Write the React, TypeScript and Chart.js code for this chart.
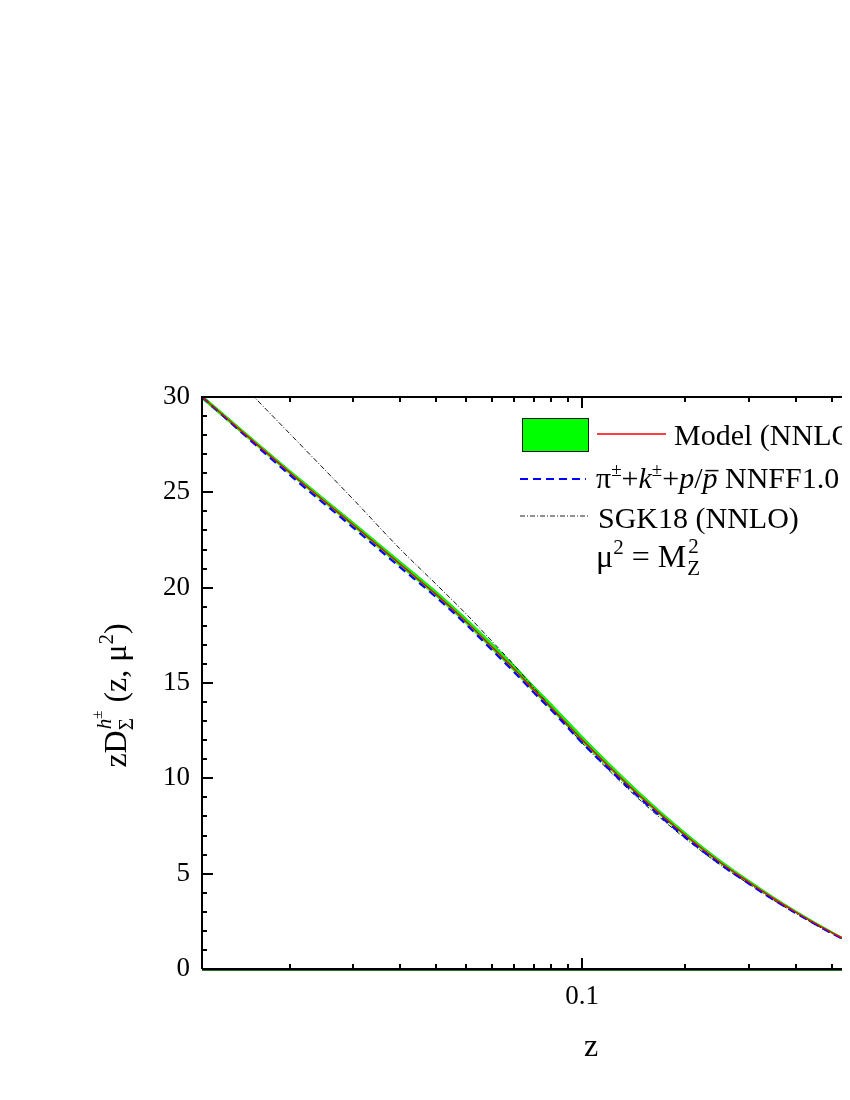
import React, { useEffect, useRef } from "react";
import { Chart, registerables } from "chart.js";

Chart.register(...registerables);

// ---------------- data ----------------
const Z_SHIFT = 0.0225; // axis is log10(z + shift)
const zPoints = [-0.009, 0, 0.01, 0.02, 0.03, 0.04, 0.05, 0.06, 0.07, 0.08, 0.1, 0.12, 0.15, 0.2, 0.25, 0.3, 0.35, 0.4, 0.45, 0.5, 0.55, 0.6, 0.7, 0.8, 0.9, 1.0];
const modelValues = [30.0, 26.03, 23.29, 21.25, 19.65, 18.22, 16.9, 15.74, 14.65, 13.71, 12.02, 10.66, 9.02, 7.03, 5.6, 4.55, 3.69, 2.99, 2.4, 1.9, 1.48, 1.2, 0.8, 0.45, 0.2, 0.05];
const bandUpper = [30.1, 26.15, 23.43, 21.41, 19.82, 18.4, 17.1, 15.94, 14.85, 13.91, 12.22, 10.85, 9.19, 7.17, 5.72, 4.65, 3.77, 3.06, 2.46, 1.95, 1.52, 1.23, 0.82, 0.47, 0.21, 0.06];
const bandLower = [29.9, 25.95, 23.2, 21.14, 19.55, 18.11, 16.78, 15.62, 14.54, 13.6, 11.91, 10.56, 8.93, 6.95, 5.53, 4.5, 3.65, 2.95, 2.37, 1.87, 1.45, 1.18, 0.78, 0.44, 0.19, 0.04];
const nnffValues = [30.0, 25.9, 23.14, 21.09, 19.5, 18.07, 16.74, 15.58, 14.5, 13.57, 11.86, 10.52, 8.9, 6.92, 5.5, 4.47, 3.62, 2.94, 2.36, 1.86, 1.45, 1.17, 0.78, 0.44, 0.19, 0.05];
const sgkValues = [32.8, 28.06, 24.62, 22.05, 20.18, 18.62, 17.2, 15.95, 14.75, 13.7, 11.85, 10.45, 8.8, 6.85, 5.47, 4.45, 3.6, 2.92, 2.34, 1.85, 1.44, 1.15, 0.75, 0.42, 0.18, 0.04];

const xMin = -0.009;
const xMax = 1.0;
const xMajorTicks = [0.1, 1];
const xTickLabels = ["0.1", "1"];
const xMinorTicks = [0, 0.01, 0.02, 0.03, 0.04, 0.05, 0.06, 0.07, 0.08, 0.09, 0.2, 0.3, 0.4, 0.5, 0.6, 0.7, 0.8, 0.9];
const yMin = 0;
const yMax = 30;
const yMajorStep = 5;
const yMinorStep = 1;

const legendLabels = ["Model (NNLO)", "NNFF1.0", "SGK18 (NNLO)"];

// ---------------- helpers ----------------
const FONT = '"Liberation Serif", "Times New Roman", Times, serif';
const font = (size: number, italic = false) => `${italic ? "italic " : ""}${size}px ${FONT}`;
const u = (z: number) => Math.log10(z + Z_SHIFT);
const pts = (vals: number[]) => zPoints.map((z, i) => ({ x: u(z), y: vals[i] }));

type Seg = { t: string; size: number; italic?: boolean; dy?: number; over?: boolean };

function drawSegs(ctx: CanvasRenderingContext2D, x: number, y: number, segs: Seg[]) {
  let cx = x;
  for (const s of segs) {
    ctx.font = font(s.size, s.italic);
    ctx.fillText(s.t, cx, y + (s.dy || 0));
    const w = ctx.measureText(s.t).width;
    if (s.over) {
      ctx.save();
      ctx.lineWidth = 1.5;
      ctx.beginPath();
      ctx.moveTo(cx + 3, y - s.size * 0.58);
      ctx.lineTo(cx + w + 1, y - s.size * 0.58);
      ctx.stroke();
      ctx.restore();
    }
    cx += w;
  }
  return cx;
}

function segsWidth(ctx: CanvasRenderingContext2D, segs: Seg[]) {
  let w = 0;
  for (const s of segs) {
    ctx.font = font(s.size, s.italic);
    w += ctx.measureText(s.t).width;
  }
  return w;
}

const framePlugin = {
  id: "frame",
  afterDraw(chart: any) {
    const ctx: CanvasRenderingContext2D = chart.ctx;
    const { left, right, top, bottom } = chart.chartArea;
    const xs = chart.scales.x;
    const ys = chart.scales.y;
    ctx.save();
    ctx.strokeStyle = "#000";
    ctx.fillStyle = "#000";
    ctx.lineWidth = 2;
    ctx.setLineDash([]);
    // frame
    ctx.beginPath();
    ctx.moveTo(left, bottom);
    ctx.lineTo(left, top);
    ctx.lineTo(right, top);
    ctx.lineTo(right, bottom);
    ctx.lineTo(left, bottom);
    ctx.stroke();
    ctx.strokeStyle = "#2c6a2c";
    ctx.lineWidth = 1;
    ctx.beginPath();
    ctx.moveTo(left, bottom + 1.5);
    ctx.lineTo(right, bottom + 1.5);
    ctx.stroke();
    ctx.strokeStyle = "#000";
    ctx.lineWidth = 2;
    // y ticks
    for (let v = yMin; v <= yMax; v += yMinorStep) {
      const py = Math.round(ys.getPixelForValue(v));
      const len = v % yMajorStep === 0 ? 11 : 5;
      ctx.beginPath();
      ctx.moveTo(left, py);
      ctx.lineTo(left + len, py);
      ctx.moveTo(right, py);
      ctx.lineTo(right - len, py);
      ctx.stroke();
    }
    // x ticks
    const xt = [...xMajorTicks.map((z) => [z, 11]), ...xMinorTicks.map((z) => [z, 5])];
    for (const [z, len] of xt) {
      const px = Math.round(xs.getPixelForValue(u(z)));
      ctx.beginPath();
      ctx.moveTo(px, bottom);
      ctx.lineTo(px, bottom - len);
      ctx.moveTo(px, top);
      ctx.lineTo(px, top + len);
      ctx.stroke();
    }

    // x title
    ctx.textAlign = "center";
    ctx.textBaseline = "alphabetic";
    ctx.font = font(32);
    ctx.fillText("z", 583, 1048);

    // y title (rotated)
    ctx.save();
    ctx.translate(118, 688);
    ctx.rotate(-Math.PI / 2);
    ctx.textAlign = "left";
    const a: Seg[] = [{ t: "zD", size: 32 }];
    const b: Seg[] = [{ t: " (z, \u03bc", size: 32 }, { t: "2", size: 21, dy: -13 }, { t: ")", size: 32 }];
    ctx.font = font(21, true);
    const hW = ctx.measureText("h").width;
    ctx.font = font(15);
    const pmW = ctx.measureText("\u00b1").width;
    ctx.font = font(21);
    const stackW = Math.max(ctx.measureText("\u03a3").width, hW + pmW);
    const total = segsWidth(ctx, a) + stackW + segsWidth(ctx, b);
    let cx = -total / 2;
    cx = drawSegs(ctx, cx, 0, a);
    ctx.font = font(21);
    ctx.fillText("\u03a3", cx, 7);
    ctx.font = font(21, true);
    ctx.fillText("h", cx + 1, -15);
    ctx.font = font(15);
    ctx.fillText("\u00b1", cx + 1 + hW, -24);
    cx += stackW + 1;
    drawSegs(ctx, cx, 0, b);
    ctx.restore();

    // legend
    ctx.textAlign = "left";
    ctx.fillStyle = "#00ff00";
    ctx.fillRect(514, 410, 66, 33);
    ctx.strokeStyle = "#1a1a1a";
    ctx.lineWidth = 1;
    ctx.strokeRect(514.5, 410.5, 66, 33);
    ctx.strokeStyle = "#ff0000";
    ctx.lineWidth = 1.5;
    ctx.beginPath();
    ctx.moveTo(589, 426);
    ctx.lineTo(658, 426);
    ctx.stroke();
    ctx.fillStyle = "#000";
    ctx.font = font(30);
    ctx.fillText(legendLabels[0], 666, 437);

    ctx.strokeStyle = "#0000ff";
    ctx.lineWidth = 2;
    ctx.setLineDash([8, 5]);
    ctx.beginPath();
    ctx.moveTo(512, 471);
    ctx.lineTo(578, 471);
    ctx.stroke();
    ctx.setLineDash([]);
    ctx.strokeStyle = "#000";
    drawSegs(ctx, 588, 480, [
      { t: "\u03c0", size: 30 },
      { t: "\u00b1", size: 19, dy: -12 },
      { t: "+", size: 30 },
      { t: "k", size: 30, italic: true },
      { t: "\u00b1", size: 19, dy: -12 },
      { t: "+", size: 30 },
      { t: "p", size: 30, italic: true },
      { t: "/", size: 30 },
      { t: "p", size: 30, italic: true, over: true },
      { t: " " + legendLabels[1], size: 30 },
    ]);

    ctx.strokeStyle = "#222";
    ctx.lineWidth = 1;
    ctx.setLineDash([5, 2, 1, 2]);
    ctx.beginPath();
    ctx.moveTo(512, 508);
    ctx.lineTo(582, 508);
    ctx.stroke();
    ctx.setLineDash([]);
    ctx.font = font(30);
    ctx.fillText(legendLabels[2], 590, 520);

    const mx = drawSegs(ctx, 588, 559, [
      { t: "\u03bc", size: 32 },
      { t: "2", size: 21, dy: -13 },
      { t: " = M", size: 32 },
    ]);
    ctx.font = font(21);
    ctx.fillText("Z", mx + 1, 567);
    ctx.fillText("2", mx + 2, 545);
    ctx.restore();
  },
};

export default function App() {
  const ref = useRef<HTMLCanvasElement | null>(null);
  useEffect(() => {
    if (!ref.current) return;
    const chart = new Chart(ref.current, {
      type: "line",
      data: {
        datasets: [
          {
            label: "band lower",
            data: pts(bandLower),
            borderColor: "#00ee00",
            borderWidth: 1,
            pointRadius: 0,
            fill: false,
            cubicInterpolationMode: "monotone",
            order: 4,
          },
          {
            label: "band upper",
            data: pts(bandUpper),
            borderColor: "#00ee00",
            borderWidth: 1,
            backgroundColor: "#00ff00",
            pointRadius: 0,
            fill: "-1",
            cubicInterpolationMode: "monotone",
            order: 3,
          },
          {
            label: legendLabels[2],
            data: pts(sgkValues),
            borderColor: "#111",
            borderWidth: 1,
            borderDash: [5, 2, 1, 2],
            pointRadius: 0,
            fill: false,
            cubicInterpolationMode: "monotone",
            order: 2,
          },
          {
            label: legendLabels[1],
            data: pts(nnffValues),
            borderColor: "#0000ff",
            borderWidth: 2.2,
            borderDash: [8, 5],
            pointRadius: 0,
            fill: false,
            cubicInterpolationMode: "monotone",
            order: 1,
          },
          {
            label: legendLabels[0],
            data: pts(modelValues),
            borderColor: "#ff0000",
            borderWidth: 1.3,
            pointRadius: 0,
            fill: false,
            cubicInterpolationMode: "monotone",
            order: 0,
          },
        ],
      },
      options: {
        responsive: false,
        animation: false,
        devicePixelRatio: 1,
        layout: { padding: { top: 389, left: 0, right: 60, bottom: 0 } },
        plugins: { legend: { display: false }, tooltip: { enabled: false }, title: { display: false } },
        events: [],
        scales: {
          x: {
            type: "linear",
            min: u(xMin),
            max: u(xMax),
            grid: { display: false, drawTicks: false },
            border: { display: false },
            afterBuildTicks: (scale: any) => {
              scale.ticks = xMajorTicks.map((z) => ({ value: u(z) }));
            },
            afterFit: (scale: any) => {
              scale.height = 123;
            },
            ticks: {
              autoSkip: false,
              maxRotation: 0,
              padding: 12,
              color: "#000",
              font: { family: FONT, size: 27 },
              callback: (_v: any, i: number) => xTickLabels[i],
            },
          },
          y: {
            type: "linear",
            min: yMin,
            max: yMax,
            grid: { display: false, drawTicks: false },
            border: { display: false },
            afterFit: (scale: any) => {
              scale.width = 194;
            },
            ticks: {
              stepSize: yMajorStep,
              padding: 12,
              color: "#000",
              font: { family: FONT, size: 27 },
            },
          },
        },
      } as any,
      plugins: [framePlugin],
    });
    return () => chart.destroy();
  }, []);
  return (
    <div style={{ width: 842, height: 1084, overflow: "hidden", background: "#fff" }}>
      <canvas ref={ref} width={1000} height={1084} style={{ width: 1000, height: 1084, display: "block" }} />
    </div>
  );
}
